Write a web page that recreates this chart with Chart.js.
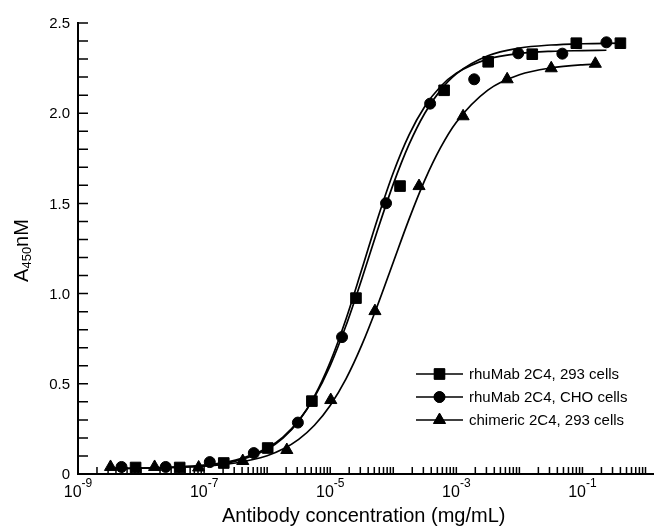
<!DOCTYPE html>
<html>
<head>
<meta charset="utf-8">
<title>Antibody binding</title>
<script src="https://cdn.jsdelivr.net/npm/chart.js@4.4.1/dist/chart.umd.min.js"></script>
<style>
  html, body { margin: 0; padding: 0; background: #fff; }
  #wrap { width: 654px; height: 526px; }
</style>
</head>
<body>
<div id="wrap"><canvas id="bindChart" width="654" height="526"></canvas></div>
<script>
// ── values ──
const LABELS = ['rhuMab 2C4, 293 cells', 'rhuMab 2C4, CHO cells', 'chimeric 2C4, 293 cells'];
const STYLES = ['rect', 'circle', 'triangle'];
const RADII  = [7.5, 5.5, 7];

// measured points: concentration (mg/mL) and A450
const conc293  = [8.19e-9, 4.1e-8, 2.05e-7, 1.02e-6, 5.12e-6, 2.56e-5, 1.28e-4, 6.4e-4, 3.2e-3, 0.016, 0.08, 0.4];
const a450_293 = [0.036, 0.036, 0.061, 0.144, 0.404, 0.975, 1.596, 2.127, 2.285, 2.327, 2.388, 2.388];

const concCHO  = [4.9e-9, 2.46e-8, 1.23e-7, 6.14e-7, 3.07e-6, 1.54e-5, 7.68e-5, 3.84e-4, 1.92e-3, 9.6e-3, 0.048, 0.24];
const a450_CHO = [0.039, 0.039, 0.066, 0.116, 0.285, 0.759, 1.501, 2.053, 2.188, 2.332, 2.33, 2.393];

const concChim  = [3.28e-9, 1.64e-8, 8.19e-8, 4.1e-7, 2.05e-6, 1.02e-5, 5.12e-5, 2.56e-4, 1.28e-3, 6.4e-3, 0.032, 0.16];
const a450_Chim = [0.039, 0.039, 0.036, 0.072, 0.133, 0.41, 0.903, 1.596, 1.983, 2.188, 2.249, 2.274];

// fitted curves, read at these concentrations
const fitGrid = [1e-8, 3.16e-8, 1e-7, 3.16e-7, 1e-6, 1.78e-6, 3.16e-6, 5.62e-6, 1e-5, 1.78e-5, 3.16e-5,
                 5.62e-5, 1e-4, 1.78e-4, 3.16e-4, 5.62e-4, 1e-3, 3.16e-3, 1e-2, 3.16e-2, 0.1];
const fit293  = [0.033, 0.038, 0.049, 0.077, 0.144, 0.205, 0.296, 0.426, 0.601, 0.823, 1.080,
                 1.351, 1.607, 1.827, 2.000, 2.128, 2.218, 2.318, 2.361, 2.378, 2.385];
const fitCHO  = [0.032, 0.036, 0.046, 0.071, 0.137, 0.199, 0.293, 0.431, 0.620, 0.859, 1.133,
                 1.414, 1.670, 1.880, 2.037, 2.148, 2.222, 2.300, 2.331, 2.343, 2.347];
const fitChim = [0.032, 0.036, 0.043, 0.061, 0.101, 0.138, 0.192, 0.270, 0.380, 0.527, 0.714,
                 0.934, 1.174, 1.413, 1.629, 1.809, 1.950, 2.128, 2.213, 2.251, 2.268];
// curve end points (first / last concentration and A450)
const fitEnds293  = [8.19e-9, 0.032, 0.4, 2.388];
const fitEndsCHO  = [4.9e-9, 0.031, 0.24, 2.349];
const fitEndsChim = [3.28e-9, 0.031, 0.16, 2.271];

// axis ticks
const Y_TICKS       = [0, 0.5, 1.0, 1.5, 2.0, 2.5];
const Y_TICK_LABELS = ['0', '0.5', '1.0', '1.5', '2.0', '2.5'];
const X_LABEL_EXP   = [-9, -7, -5, -3, -1];

const FONT = '"Liberation Sans", Arial, Helvetica, sans-serif';

function pts(xs, ys) {
  return xs.map((x, i) => ({ x, y: ys[i] }));
}

function curve(ends, ys) {
  return [{ x: ends[0], y: ends[1] }, ...pts(fitGrid, ys), { x: ends[2], y: ends[3] }];
}

function markerSet(i, xs, ys) {
  return {
    label: LABELS[i],
    data: pts(xs, ys),
    showLine: false,
    pointStyle: STYLES[i],
    pointRadius: RADII[i],
    pointBackgroundColor: '#000',
    pointBorderColor: '#000',
    pointBorderWidth: 1,
    clip: false,
  };
}

function curveSet(data) {
  return {
    data,
    borderColor: '#000',
    borderWidth: 1.7,
    pointRadius: 0,
    cubicInterpolationMode: 'monotone',
    fill: false,
    clip: false,
  };
}

// ─── axes: inward ticks, labels with superscripts, subscript title ───
const axesPlugin = {
  id: 'axes',
  beforeDatasetsDraw(chart) {
    const { ctx, chartArea: a, scales: { x, y } } = chart;
    ctx.save();
    ctx.strokeStyle = '#000';
    ctx.fillStyle = '#000';

    ctx.lineWidth = 1.5;
    ctx.beginPath();
    for (let i = 0; i <= 25; i++) {
      const py = y.getPixelForValue(i / 10);
      ctx.moveTo(a.left, py);
      ctx.lineTo(a.left + 10, py);
    }
    for (let e = -9; e <= 0; e++) {
      for (let m = 1; m <= 9; m++) {
        const v = m * Math.pow(10, e);
        if (v > 1.0001) break;
        const px = x.getPixelForValue(v);
        ctx.moveTo(px, a.bottom);
        ctx.lineTo(px, a.bottom - 7);
      }
    }
    ctx.stroke();

    ctx.lineWidth = 2;
    ctx.beginPath();
    ctx.moveTo(a.left, a.top - 1);
    ctx.lineTo(a.left, a.bottom);
    ctx.lineTo(chart.width, a.bottom);
    ctx.stroke();

    // y tick labels
    ctx.font = '15px ' + FONT;
    ctx.textAlign = 'right';
    ctx.textBaseline = 'middle';
    Y_TICKS.forEach((v, i) => {
      ctx.fillText(Y_TICK_LABELS[i], a.left - 8, y.getPixelForValue(v) + 1);
    });

    // x tick labels: 10^e
    ctx.textAlign = 'left';
    ctx.textBaseline = 'alphabetic';
    X_LABEL_EXP.forEach(e => {
      const px = x.getPixelForValue(Math.pow(10, e));
      ctx.font = '16px ' + FONT;
      const w1 = ctx.measureText('10').width;
      ctx.font = '12px ' + FONT;
      const sup = '-' + Math.abs(e);
      const w2 = ctx.measureText(sup).width;
      const x0 = px - (w1 + w2) / 2;
      ctx.font = '16px ' + FONT;
      ctx.fillText('10', x0, 497);
      ctx.font = '12px ' + FONT;
      ctx.fillText(sup, x0 + w1, 487);
    });

    // x title
    ctx.font = '20px ' + FONT;
    ctx.textAlign = 'center';
    ctx.fillText('Antibody concentration (mg/mL)', (a.left + a.right) / 2 + 2, 522);

    // y title: A450nM
    ctx.translate(28, (a.top + a.bottom) / 2 + 2);
    ctx.rotate(-Math.PI / 2);
    ctx.textAlign = 'left';
    ctx.font = '20px ' + FONT;
    const wA = ctx.measureText('A').width;
    const wNM = ctx.measureText('nM').width;
    ctx.font = '13px ' + FONT;
    const wSub = ctx.measureText('450').width;
    let tx = -(wA + wSub + wNM) / 2;
    ctx.font = '20px ' + FONT;
    ctx.fillText('A', tx, 0);
    tx += wA;
    ctx.font = '13px ' + FONT;
    ctx.fillText('450', tx, 3);
    tx += wSub;
    ctx.font = '20px ' + FONT;
    ctx.fillText('nM', tx, 0);

    ctx.restore();
  }
};

// ─── legend: line + marker + text ───
const legendPlugin = {
  id: 'lineLegend',
  afterDatasetsDraw(chart) {
    const ctx = chart.ctx;
    const rows = [374, 397, 420];
    ctx.save();
    ctx.strokeStyle = '#000';
    ctx.fillStyle = '#000';
    ctx.font = '15px ' + FONT;
    ctx.textAlign = 'left';
    ctx.textBaseline = 'middle';
    rows.forEach((ry, i) => {
      ctx.lineWidth = 1.7;
      ctx.beginPath();
      ctx.moveTo(416, ry);
      ctx.lineTo(463, ry);
      ctx.stroke();
      ctx.lineWidth = 1;
      Chart.helpers.drawPoint(ctx, { pointStyle: STYLES[i], radius: RADII[i], rotation: 0, borderWidth: 1 }, 439.5, ry);
      ctx.fill();
      ctx.fillText(LABELS[i], 469, ry + 1);
    });
    ctx.restore();
  }
};

new Chart(document.getElementById('bindChart'), {
  type: 'line',
  data: {
    datasets: [
      markerSet(0, conc293, a450_293),
      markerSet(1, concCHO, a450_CHO),
      markerSet(2, concChim, a450_Chim),
      curveSet(curve(fitEnds293, fit293)),
      curveSet(curve(fitEndsCHO, fitCHO)),
      curveSet(curve(fitEndsChim, fitChim)),
    ]
  },
  options: {
    responsive: false,
    animation: false,
    layout: { padding: { left: 78, right: 2, top: 23, bottom: 52 } },
    plugins: { legend: { display: false }, tooltip: { enabled: false } },
    scales: {
      x: { type: 'logarithmic', min: 1e-9, max: 1, display: false },
      y: { type: 'linear', min: 0, max: 2.5, display: false },
    }
  },
  plugins: [axesPlugin, legendPlugin]
});
</script>
</body>
</html>
